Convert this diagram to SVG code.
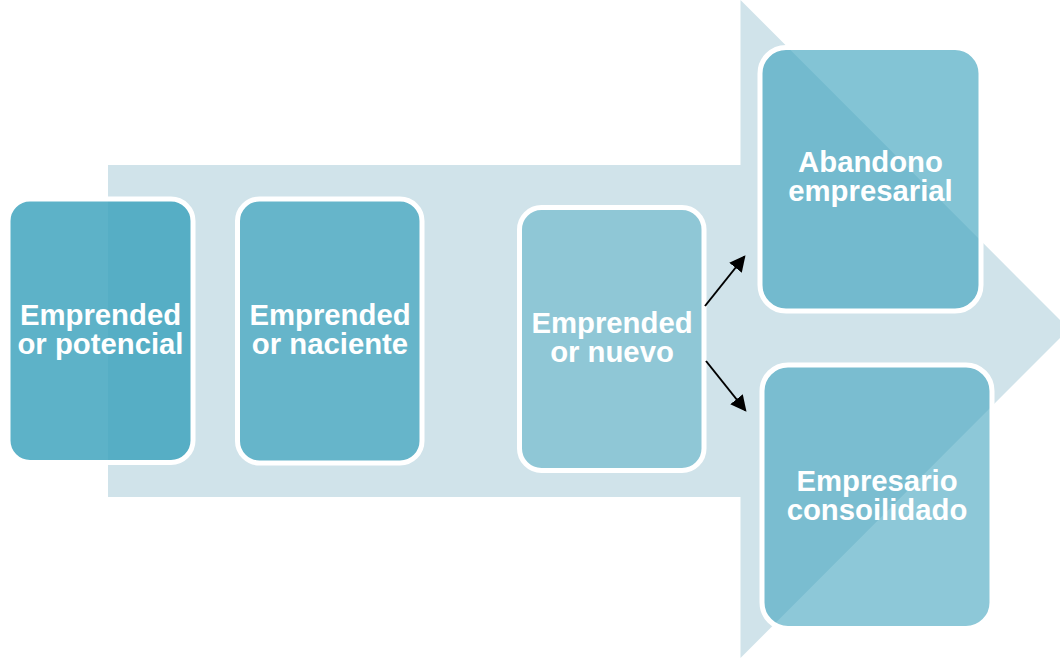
<svg xmlns="http://www.w3.org/2000/svg" width="1060" height="658" viewBox="0 0 1060 658">
  <style>
    .stage { stroke: #ffffff; stroke-width: 5; fill: #41a4be; }
    .label { font-family: "Liberation Sans", Arial, sans-serif; font-weight: bold; font-size: 29.3px; fill: #ffffff; text-anchor: middle; }
    .link { stroke: #000000; stroke-width: 2; fill: none; marker-end: url(#head); }
  </style>
  <defs>
    <marker id="head" viewBox="0 0 10 10" refX="9" refY="5" markerWidth="8" markerHeight="8" markerUnits="strokeWidth" orient="auto">
      <path d="M0,0 L10,5 L0,10 Z" fill="#000000"/>
    </marker>
  </defs>
  <rect width="1060" height="658" fill="#ffffff"/>

  <!-- background block arrow -->
  <polygon id="flow" points="108,165 740.5,165 740.5,0 1069,329 740.5,658 740.5,497 108,497" fill="#d0e3ea"/>

  <g id="potencial">
    <rect class="stage" x="8" y="199" width="185" height="263.5" rx="22" fill-opacity="0.85"/>
    <text class="label" x="100.5" y="325">Emprended</text>
    <text class="label" x="100.5" y="354">or potencial</text>
  </g>

  <g id="naciente">
    <rect class="stage" x="237.5" y="199" width="184.5" height="264" rx="22" fill-opacity="0.74"/>
    <text class="label" x="330" y="325">Emprended</text>
    <text class="label" x="330" y="354">or naciente</text>
  </g>

  <g id="nuevo">
    <rect class="stage" x="519.5" y="207.5" width="184.5" height="263" rx="22" fill-opacity="0.45"/>
    <text class="label" x="612" y="333">Emprended</text>
    <text class="label" x="612" y="362">or nuevo</text>
  </g>

  <g id="abandono">
    <rect class="stage" x="760" y="47.5" width="221" height="263.5" rx="26" fill-opacity="0.65"/>
    <text class="label" x="870.5" y="172">Abandono</text>
    <text class="label" x="870.5" y="201">empresarial</text>
  </g>

  <g id="consolidado">
    <rect class="stage" x="762" y="365" width="230" height="263.5" rx="26" fill-opacity="0.6"/>
    <text class="label" x="877" y="491">Empresario</text>
    <text class="label" x="877" y="520">consoilidado</text>
  </g>

  <g id="connectors">
    <line class="link" x1="705" y1="306" x2="744.5" y2="256.5"/>
    <line class="link" x1="706" y1="361" x2="745.5" y2="410.5"/>
  </g>
</svg>
